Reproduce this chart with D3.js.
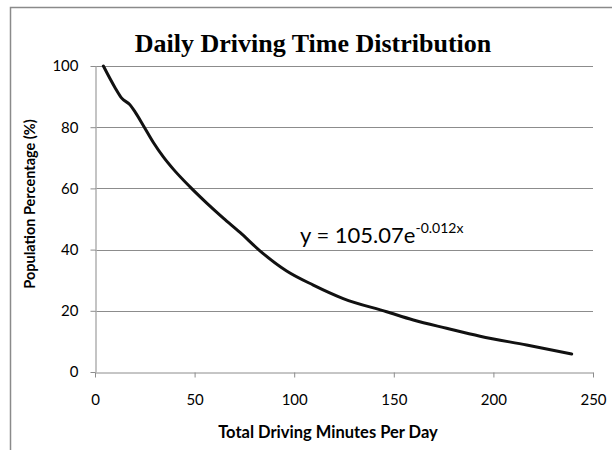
<!DOCTYPE html>
<html>
<head>
<meta charset="utf-8">
<script src="https://cdn.jsdelivr.net/npm/d3@7"></script>
<style>
  body { margin: 0; background: #fff; }
  svg { display: block; }
</style>
</head>
<body>
<div id="chart"></div>
<script>
// values
var minutes = [4.2, 10, 13.4, 17.6, 20.1, 24.3, 29.3, 34.3, 39.3, 47.7, 56.1, 64.4, 72.8, 82.8, 96.2, 109.6, 124.6, 146.4, 159.8, 176.5, 193.3, 216.7, 239.3];
var percent = [100, 93, 89.5, 87.3, 85, 80.5, 75, 70.3, 66.3, 60.5, 55.2, 50.3, 45.6, 39.6, 33, 28.4, 24, 19.7, 17, 14.3, 11.7, 8.8, 5.9];
var x_ticks = [0, 50, 100, 150, 200, 250];
var y_ticks = [0, 20, 40, 60, 80, 100];
var title_text = "Daily Driving Time Distribution";
var x_title = "Total Driving Minutes Per Day";
var y_title = "Population Percentage (%)";
var eq_base = "y = 105.07e";
var eq_exp = "-0.012x";

var width_chart = 612;
var height_chart = 450;
var font_body = "Lato, 'Open Sans', sans-serif";

var svg = d3.select("#chart").append("svg")
  .attr("width", width_chart)
  .attr("height", height_chart);

// outer frame (only top and left edges are visible)
svg.append("path")
  .attr("d", "M10.5,450 L10.5,7.5 L612,7.5")
  .attr("fill", "none")
  .attr("stroke", "#8a8a8a")
  .attr("stroke-width", 1.5);

var x = d3.scaleLinear().domain([0, 250]).range([95, 593]);
var y = d3.scaleLinear().domain([0, 100]).range([372, 66]);

// gridlines
svg.append("g")
  .selectAll("line")
  .data(y_ticks.filter(function (d) { return d > 0; }))
  .join("line")
  .attr("x1", x(0))
  .attr("x2", x(250))
  .attr("y1", function (d) { return Math.round(y(d)) + 0.5; })
  .attr("y2", function (d) { return Math.round(y(d)) + 0.5; })
  .attr("stroke", "#8c8c8c")
  .attr("stroke-width", 1);

var x_axis = svg.append("g")
  .attr("transform", "translate(0," + (Math.round(y(0)) + 0.5) + ")")
  .call(d3.axisBottom(x).tickValues(x_ticks).tickSize(5).tickSizeOuter(0).tickPadding(17));

var y_axis = svg.append("g")
  .attr("transform", "translate(" + (Math.round(x(0)) + 0.5) + ",0)")
  .call(d3.axisLeft(y).tickValues(y_ticks).tickSize(5).tickSizeOuter(0).tickPadding(12));

[x_axis, y_axis].forEach(function (a) {
  a.select(".domain").attr("stroke", "#8c8c8c");
  a.selectAll(".tick line").attr("stroke", "#8c8c8c");
  a.selectAll(".tick text")
    .attr("fill", "#000")
    .style("font-family", font_body)
    .style("font-size", "15px");
});
y_axis.select(".domain").attr("stroke", "#b0b0b0").attr("stroke-width", 1.5);

// curve
var line = d3.line()
  .curve(d3.curveMonotoneX)
  .x(function (d, i) { return x(minutes[i]); })
  .y(function (d) { return y(d); });

svg.append("path")
  .datum(percent)
  .attr("d", line)
  .attr("fill", "none")
  .attr("stroke", "#111")
  .attr("stroke-width", 3)
  .attr("stroke-linecap", "round");

// titles
svg.append("text")
  .attr("x", 313)
  .attr("y", 52)
  .attr("text-anchor", "middle")
  .style("font-family", "'Liberation Serif', 'Times New Roman', serif")
  .style("font-weight", "bold")
  .style("font-size", "26px")
  .text(title_text);

svg.append("text")
  .attr("x", 328)
  .attr("y", 438)
  .attr("text-anchor", "middle")
  .style("font-family", font_body)
  .style("font-weight", "bold")
  .style("font-size", "16.5px")
  .text(x_title);

svg.append("text")
  .attr("transform", "translate(35,204) rotate(-90)")
  .attr("text-anchor", "middle")
  .style("font-family", font_body)
  .style("font-weight", "bold")
  .style("font-size", "14.5px")
  .text(y_title);

// trendline equation
var eq = svg.append("text")
  .attr("x", 300)
  .attr("y", 243)
  .style("font-family", font_body)
  .style("font-size", "22px");
eq.append("tspan").text(eq_base);
eq.append("tspan")
  .attr("dy", -10)
  .style("font-size", "14px")
  .text(eq_exp);
</script>
</body>
</html>
